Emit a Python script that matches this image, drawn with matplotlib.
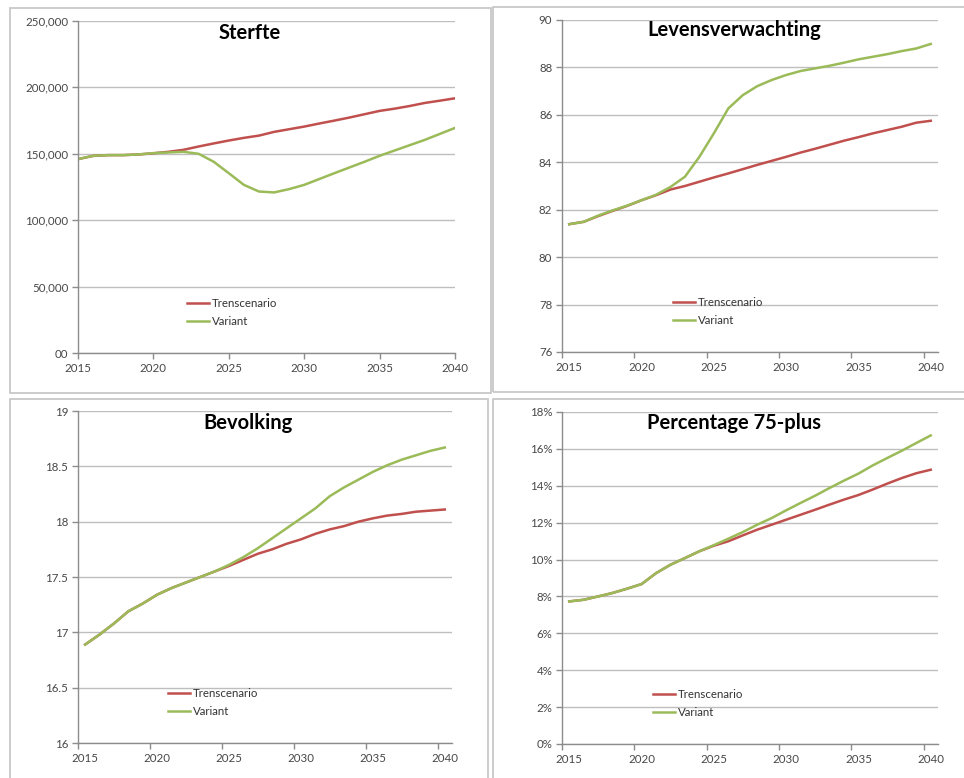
import numpy as np
import matplotlib.pyplot as plt
from matplotlib.patches import Rectangle
from matplotlib.ticker import FuncFormatter, MultipleLocator, FixedLocator

plt.rcParams['font.family'] = ['Lato', 'DejaVu Sans']

years = np.arange(2015, 2041)

# Sterfte (deaths per year)
sterfte_trend = [146000, 148400, 149000, 149000, 149500, 150400, 151500, 153000, 155500, 157800,
                 160000, 162000, 163700, 166500, 168500, 170500, 172800, 175000, 177300, 179800,
                 182300, 184000, 186000, 188300, 190000, 191800]
sterfte_variant = [146000, 148500, 149000, 149000, 149500, 150500, 151000, 151500, 150000, 144000,
                   135400, 126600, 121600, 120900, 123400, 126600, 131000, 135400, 139700, 144000,
                   148500, 152500, 156500, 160500, 165000, 169500]

# Levensverwachting (life expectancy)
leven_trend = [81.39, 81.49, 81.73, 81.95, 82.16, 82.40, 82.61, 82.85, 83.00, 83.18,
               83.36, 83.53, 83.71, 83.89, 84.06, 84.23, 84.41, 84.57, 84.74, 84.91,
               85.06, 85.22, 85.36, 85.50, 85.67, 85.75]
leven_variant = [81.39, 81.49, 81.75, 81.97, 82.17, 82.40, 82.63, 82.96, 83.39, 84.23,
                 85.22, 86.27, 86.83, 87.21, 87.47, 87.68, 87.85, 87.96, 88.07, 88.20,
                 88.34, 88.45, 88.56, 88.69, 88.80, 88.99]

# Bevolking (population, millions)
bevolking_trend = [16.89, 16.98, 17.08, 17.19, 17.26, 17.34, 17.40, 17.45, 17.50, 17.55,
                   17.60, 17.655, 17.71, 17.75, 17.80, 17.84, 17.89, 17.93, 17.96, 18.00,
                   18.03, 18.055, 18.07, 18.09, 18.10, 18.11]
bevolking_variant = [16.89, 16.98, 17.08, 17.19, 17.26, 17.34, 17.40, 17.45, 17.50, 17.55,
                     17.61, 17.68, 17.76, 17.85, 17.94, 18.03, 18.12, 18.23, 18.31, 18.38,
                     18.45, 18.51, 18.56, 18.60, 18.64, 18.67]

# Percentage 75-plus
pct75_trend = [7.73, 7.82, 8.00, 8.19, 8.42, 8.67, 9.26, 9.72, 10.08, 10.45,
               10.75, 10.99, 11.31, 11.62, 11.89, 12.16, 12.43, 12.70, 12.98, 13.25,
               13.50, 13.80, 14.12, 14.42, 14.68, 14.87]
pct75_variant = [7.73, 7.82, 8.00, 8.19, 8.42, 8.67, 9.26, 9.72, 10.08, 10.45,
                 10.78, 11.13, 11.49, 11.89, 12.25, 12.67, 13.07, 13.46, 13.88, 14.28,
                 14.66, 15.11, 15.51, 15.90, 16.32, 16.73]

labels = ['Trenscenario', 'Variant']
red = '#C0504D'
green = '#9BBB59'
grid_col = '#BEBEBE'
axis_col = '#8C8C8C'
text_col = '#474747'
fsize = 8.3

W, H = 964, 778
fig = plt.figure(figsize=(W / 100, H / 100), dpi=100)


def frame(x1, y1, x2, y2):
    fig.patches.append(Rectangle((x1 / W, 1 - y2 / H), (x2 - x1) / W, (y2 - y1) / H,
                                 transform=fig.transFigure, fill=False,
                                 edgecolor='#C4C4C4', lw=1.2))


def make_axes(x1, y1, x2, y2):
    return fig.add_axes([x1 / W, 1 - y2 / H, (x2 - x1) / W, (y2 - y1) / H])


frame(10, 8, 491, 393)
frame(493, 7, 970, 392)
frame(10, 399, 488, 785)
frame(493, 399, 970, 785)


def style(ax, title, tx, ty, lx):
    for s in ['top', 'right']:
        ax.spines[s].set_visible(False)
    for s in ['left', 'bottom']:
        ax.spines[s].set_color(axis_col)
        ax.spines[s].set_linewidth(1)
    ax.grid(axis='y', color=grid_col, lw=1)
    ax.set_axisbelow(True)
    ax.tick_params(axis='both', which='major', colors=axis_col, length=4, width=1,
                   labelcolor=text_col, labelsize=fsize, pad=3)
    ax.text(tx, ty, title, transform=ax.transAxes, ha='center', va='center',
            fontsize=14.5, fontweight='bold', color='black')
    ax.legend(labels, loc='center left', bbox_to_anchor=(lx, 0.123), frameon=False,
              fontsize=fsize, handlelength=1.9, handletextpad=0.25, labelspacing=0.6,
              borderpad=0, borderaxespad=0, labelcolor='#333333')


def between_ticks(ax):
    # Excel-style category axis: ticks between categories, labels on centers
    ax.set_xlim(years[0] - 0.5, years[-1] + 0.5)
    ax.xaxis.set_major_locator(FixedLocator(np.arange(years[0] - 0.5, years[-1], 5)))
    ax.xaxis.set_major_formatter(FuncFormatter(lambda v, p: ''))
    ax.xaxis.set_minor_locator(FixedLocator(np.arange(years[0], years[-1] + 1, 5)))
    ax.xaxis.set_minor_formatter(FuncFormatter(lambda v, p: '%d' % round(v)))
    ax.tick_params(axis='x', which='minor', length=0, labelcolor=text_col, labelsize=fsize, pad=7)


# Sterfte
ax1 = make_axes(78, 21, 455, 353)
ax1.plot(years, sterfte_trend, color=red, lw=1.8)
ax1.plot(years, sterfte_variant, color=green, lw=1.8)
ax1.set_xlim(2015, 2040)
ax1.set_ylim(0, 250000)
ax1.xaxis.set_major_locator(MultipleLocator(5))
ax1.yaxis.set_major_locator(MultipleLocator(50000))
ax1.yaxis.set_major_formatter(FuncFormatter(lambda v, p: '00' if v == 0 else '{:,.0f}'.format(v)))
style(ax1, 'Sterfte', 0.456, 0.964, 0.29)

# Levensverwachting
ax2 = make_axes(562, 20, 938, 352)
ax2.plot(years, leven_trend, color=red, lw=1.8)
ax2.plot(years, leven_variant, color=green, lw=1.8)
ax2.set_ylim(76, 90)
ax2.yaxis.set_major_locator(MultipleLocator(2))
between_ticks(ax2)
style(ax2, 'Levensverwachting', 0.457, 0.97, 0.295)

# Bevolking
ax3 = make_axes(78, 411, 452, 743)
ax3.plot(years, bevolking_trend, color=red, lw=1.8)
ax3.plot(years, bevolking_variant, color=green, lw=1.8)
ax3.set_ylim(16, 19)
ax3.yaxis.set_major_locator(MultipleLocator(0.5))
ax3.yaxis.set_major_formatter(FuncFormatter(lambda v, p: '%g' % v))
between_ticks(ax3)
style(ax3, 'Bevolking', 0.455, 0.964, 0.24)

# Percentage 75-plus
ax4 = make_axes(562, 412, 938, 744)
ax4.plot(years, pct75_trend, color=red, lw=1.8)
ax4.plot(years, pct75_variant, color=green, lw=1.8)
ax4.set_ylim(0, 18)
ax4.yaxis.set_major_locator(MultipleLocator(2))
ax4.yaxis.set_major_formatter(FuncFormatter(lambda v, p: '%d%%' % round(v)))
between_ticks(ax4)
style(ax4, 'Percentage 75-plus', 0.457, 0.967, 0.242)

fig.savefig('out.png', dpi=100)
